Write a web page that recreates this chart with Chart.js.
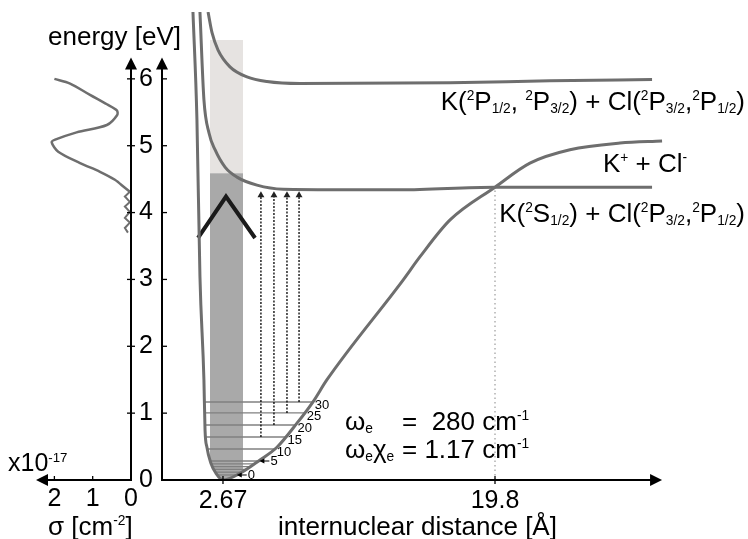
<!DOCTYPE html>
<html>
<head>
<meta charset="utf-8">
<script src="https://cdn.jsdelivr.net/npm/chart.js@4.4.0/dist/chart.umd.min.js"></script>
<style>
  html, body { margin: 0; padding: 0; background: #fff; }
  #wrap { position: relative; width: 748px; height: 539px; }
  #wrap canvas { position: absolute; left: 0; top: 0; }
</style>
</head>
<body>
<div id="wrap">
  <canvas id="sigma" width="748" height="539"></canvas>
  <canvas id="pec" width="748" height="539"></canvas>
</div>
<script>
// axes
const energyTicks = [0, 1, 2, 3, 4, 5, 6];
const distTicks = [2.67, 19.8];
const distTickLabels = ['2.67', '19.8'];
const sigmaTicks = [0, 1, 2];

// K+ + Cl- ionic curve (R in Å, E in eV)
const ionicR = [0.78, 1.03, 1.22, 1.47, 1.54, 1.66, 1.91, 2.23, 2.67, 3.74, 5.00, 6.07, 7.33, 8.34, 9.22, 14.01, 15.08, 16.97, 19.80, 22.00, 24.52, 27.67, 30.32];
const ionicE = [7.00, 5.39, 3.04, 1.50, 0.75, 0.49, 0.25, 0.10, 0.00, 0.10, 0.30, 0.49, 0.85, 1.17, 1.50, 2.99, 3.34, 3.89, 4.38, 4.74, 4.94, 5.04, 5.07];

// K(2S1/2) + Cl(2P3/2,2P1/2)
const covLowR = [1.22, 1.47, 1.79, 2.17, 2.80, 3.55, 4.81, 6.45, 13.82, 19.80, 29.69];
const covLowE = [7.00, 5.69, 5.19, 4.94, 4.68, 4.53, 4.41, 4.35, 4.34, 4.38, 4.38];

// K(2P1/2,2P3/2) + Cl(2P3/2,2P1/2)
const covUpR = [1.73, 1.98, 2.36, 3.11, 4.18, 5.44, 7.52, 16.97, 23.26, 29.69];
const covUpE = [7.00, 6.69, 6.43, 6.18, 6.03, 5.96, 5.93, 5.94, 5.97, 5.99];

// vibrational levels of the ionic well
const vibLevels = [0, 1, 2, 3, 4, 5, 10, 15, 20, 25, 30];
const vibE = [0.075, 0.117, 0.159, 0.200, 0.242, 0.284, 0.464, 0.643, 0.823, 1.003, 1.167];
const vibTagged = [0, 5, 10, 15, 20, 25, 30];

// excitation arrows
const pumpR = [5.06, 5.88, 6.70, 7.46];
const pumpFrom = [15, 20, 25, 30];
const pumpToE = 4.26;

// wave packet marker
const packetR = [1.10, 2.86, 4.69];
const packetE = [3.62, 4.24, 3.62];

// Franck-Condon window: dark part below fcMidE, light part up to fcTopE
const fcR = [1.85, 3.93];
const fcMidE = 4.59;
const fcTopE = 6.58;

// curve crossing
const crossR = 19.8;
const crossE = 4.38;

// photodissociation cross section (x10^-17 cm^2) vs energy
const specSigma = [2.00, 1.59, 1.07, 0.63, 0.37, 0.36, 0.63, 1.42, 1.98, 2.07, 1.90, 1.33, 0.81, 0.42, 0.16, 0.03];
const specE = [6.00, 5.93, 5.76, 5.62, 5.53, 5.46, 5.31, 5.20, 5.09, 5.05, 4.91, 4.74, 4.61, 4.49, 4.37, 4.31];
const zigSigma = [0.03, 0.16, 0.03, 0.16, 0.03, 0.16, 0.03, 0.16, 0.08];
const zigE = [4.31, 4.24, 4.16, 4.09, 4.01, 3.92, 3.85, 3.77, 3.70];

const FONT = "'Liberation Sans', Arial, Helvetica, sans-serif";
Chart.defaults.font.family = FONT;
Chart.defaults.color = '#000';

const CURVE = '#6e6e6e';
const axisTopE = 6.32;
const axisEndR = 30.32;
const sigmaAxisEnd = 2.48;

const pts = (xs, ys) => xs.map((x, i) => ({ x: x, y: ys[i] }));

// R where the ionic curve reaches energy e, on the inner or outer wall
function wallR(e, outer) {
  const iMin = ionicE.indexOf(Math.min(...ionicE));
  if (!outer) {
    for (let i = 0; i < iMin; i++) {
      if (ionicE[i] >= e && ionicE[i + 1] <= e) {
        const t = (ionicE[i] - e) / (ionicE[i] - ionicE[i + 1]);
        return ionicR[i] + t * (ionicR[i + 1] - ionicR[i]);
      }
    }
  } else {
    for (let i = iMin; i < ionicE.length - 1; i++) {
      if (ionicE[i] <= e && ionicE[i + 1] >= e) {
        const t = (e - ionicE[i]) / (ionicE[i + 1] - ionicE[i]);
        return ionicR[i] + t * (ionicR[i + 1] - ionicR[i]);
      }
    }
  }
  return ionicR[iMin];
}

// horizontal gradient that is only coloured inside the Franck-Condon window
function bandFill(color) {
  return (context) => {
    const chart = context.chart;
    const area = chart.chartArea;
    if (!area) return 'rgba(0,0,0,0)';
    const x = chart.scales.x;
    const w = area.right - area.left;
    const a = (x.getPixelForValue(fcR[0]) - area.left) / w;
    const b = (x.getPixelForValue(fcR[1]) - area.left) / w;
    const g = chart.ctx.createLinearGradient(area.left, 0, area.right, 0);
    const none = 'rgba(255,255,255,0)';
    g.addColorStop(0, none);
    g.addColorStop(a, none);
    g.addColorStop(a, color);
    g.addColorStop(b, color);
    g.addColorStop(b, none);
    g.addColorStop(1, none);
    return g;
  };
}

function drawRich(ctx, parts, x, y, size, align) {
  const small = size * 0.53;
  const pieces = parts.map(p => ({ t: p[0], k: p[1] || '', f: p[1] ? small : size }));
  let total = 0;
  pieces.forEach(p => {
    ctx.font = p.f + 'px ' + FONT;
    p.w = ctx.measureText(p.t).width;
    total += p.w;
  });
  let cx = align === 'right' ? x - total : x;
  ctx.textAlign = 'left';
  ctx.textBaseline = 'alphabetic';
  pieces.forEach(p => {
    ctx.font = p.f + 'px ' + FONT;
    const dy = p.k === 'sup' ? -size * 0.38 : (p.k === 'sub' ? size * 0.1 : 0);
    ctx.fillText(p.t, cx, y + dy);
    cx += p.w;
  });
}

function arrowHead(ctx, x, y, dir, len, half) {
  ctx.beginPath();
  if (dir === 'up') {
    ctx.moveTo(x, y); ctx.lineTo(x - half, y + len); ctx.lineTo(x + half, y + len);
  } else if (dir === 'right') {
    ctx.moveTo(x, y); ctx.lineTo(x - len, y - half); ctx.lineTo(x - len, y + half);
  } else {
    ctx.moveTo(x, y); ctx.lineTo(x + len, y - half); ctx.lineTo(x + len, y + half);
  }
  ctx.closePath();
  ctx.fill();
}

function seg(ctx, x1, y1, x2, y2) {
  ctx.beginPath(); ctx.moveTo(x1, y1); ctx.lineTo(x2, y2); ctx.stroke();
}

// ---------- potential energy curves ----------
const datasets = [
  {
    data: pts(ionicR, ionicE), borderColor: CURVE, borderWidth: 3,
    cubicInterpolationMode: 'monotone',
    fill: { value: fcMidE }, backgroundColor: bandFill('#a9a9a9')
  },
  {
    data: pts(covLowR, covLowE), borderColor: CURVE, borderWidth: 3,
    cubicInterpolationMode: 'monotone', fill: false
  },
  {
    data: pts(covUpR, covUpE), borderColor: CURVE, borderWidth: 3,
    cubicInterpolationMode: 'monotone', fill: false
  },
  {
    data: pts(packetR, packetE), borderColor: '#1a1a1a', borderWidth: 4,
    tension: 0, fill: false
  },
  {
    data: [{ x: crossR, y: 0 }, { x: crossR, y: crossE }],
    borderColor: '#b0b0b0', borderWidth: 1.5, borderDash: [1.5, 3], fill: false
  }
];
pumpR.forEach((r, i) => {
  const e0 = vibE[vibLevels.indexOf(pumpFrom[i])];
  datasets.push({
    data: [{ x: r, y: e0 }, { x: r, y: pumpToE }],
    borderColor: '#000', borderWidth: 1.3, borderDash: [2, 1.5], fill: false,
    pointRadius: [0, 4], pointStyle: 'triangle', pointBackgroundColor: '#222',
    pointBorderWidth: 0
  });
});
vibE.forEach(e => {
  datasets.push({
    data: [{ x: wallR(e, false), y: e }, { x: wallR(e, true), y: e }],
    borderColor: '#808080', borderWidth: 1.3, fill: false
  });
});
// light upper part of the Franck-Condon window
datasets.push({
  data: [{ x: fcR[0], y: fcMidE }, { x: fcR[1], y: fcMidE }],
  borderColor: 'rgba(0,0,0,0)', borderWidth: 1, fill: { value: fcTopE },
  backgroundColor: '#e6e3e1'
});

const pecDeco = {
  id: 'pecDeco',
  afterDraw(chart) {
    const { ctx } = chart;
    const x = chart.scales.x, y = chart.scales.y;
    const x0 = chart.chartArea.left;
    const y0 = y.getPixelForValue(0);
    const yTop = y.getPixelForValue(axisTopE);
    const xEnd = x.getPixelForValue(axisEndR);
    ctx.save();
    ctx.strokeStyle = '#000';
    ctx.fillStyle = '#000';
    ctx.lineWidth = 2;
    seg(ctx, x0, y0, x0, yTop + 8);
    seg(ctx, x0 - 1, y0, xEnd - 8, y0);
    arrowHead(ctx, x0, yTop, 'up', 12, 6);
    arrowHead(ctx, xEnd, y0, 'right', 12, 6);
    ctx.lineWidth = 1.3;
    energyTicks.forEach(v => {
      if (v === 0) return;
      const py = y.getPixelForValue(v);
      seg(ctx, x0, py, x0 + 5, py);
    });
    distTicks.forEach(v => {
      const px = x.getPixelForValue(v);
      seg(ctx, px, y0 - 4, px, y0 + 4);
    });

    // vibrational quantum numbers
    ctx.font = '13px ' + FONT;
    ctx.textBaseline = 'middle';
    ctx.textAlign = 'left';
    vibTagged.forEach(v => {
      const e = vibE[vibLevels.indexOf(v)];
      const px = x.getPixelForValue(wallR(e, true));
      const py = y.getPixelForValue(e);
      if (v <= 5) {
        ctx.lineWidth = 1;
        seg(ctx, px + 4, py, px + 11, py);
        arrowHead(ctx, px + 1, py, 'left', 5, 2.5);
        ctx.fillText(String(v), px + 12, py + 0.5);
      } else {
        ctx.fillText(String(v), px + 2, py + 3);
      }
    });

    // state labels
    drawRich(ctx, [['K('], ['2', 'sup'], ['P'], ['1/2', 'sub'], [', '], ['2', 'sup'], ['P'], ['3/2', 'sub'],
      [') + Cl('], ['2', 'sup'], ['P'], ['3/2', 'sub'], [','], ['2', 'sup'], ['P'], ['1/2', 'sub'], [')']],
      745, 110, 26, 'right');
    drawRich(ctx, [['K'], ['+', 'sup'], [' + Cl'], ['-', 'sup']], 603, 172, 26, 'left');
    drawRich(ctx, [['K('], ['2', 'sup'], ['S'], ['1/2', 'sub'], [') + Cl('], ['2', 'sup'], ['P'], ['3/2', 'sub'],
      [','], ['2', 'sup'], ['P'], ['1/2', 'sub'], [')']], 745, 222, 26, 'right');

    // spectroscopic constants
    drawRich(ctx, [['\u03c9'], ['e', 'sub']], 345, 430, 26, 'left');
    drawRich(ctx, [['=  280 cm'], ['-1', 'sup']], 402, 430, 26, 'left');
    drawRich(ctx, [['\u03c9'], ['e', 'sub'], ['\u03c7'], ['e', 'sub']], 345, 458, 26, 'left');
    drawRich(ctx, [['= 1.17 cm'], ['-1', 'sup']], 402, 458, 26, 'left');

    // axis titles
    ctx.font = '26px ' + FONT;
    ctx.textBaseline = 'alphabetic';
    ctx.fillText('energy [eV]', 48, 45);
    ctx.fillText('internuclear distance [\u00c5]', 278, 535);
    ctx.restore();
  }
};

new Chart(document.getElementById('pec'), {
  type: 'line',
  data: { datasets: datasets },
  options: {
    responsive: false,
    animation: false,
    events: [],
    layout: { padding: { left: 0, top: 12, right: 78, bottom: 0 } },
    elements: { point: { radius: 0 }, line: { borderCapStyle: 'butt' } },
    plugins: {
      legend: { display: false },
      tooltip: { enabled: false },
      filler: { drawTime: 'beforeDatasetsDraw' }
    },
    scales: {
      x: {
        type: 'linear', min: -1.17, max: 30.82,
        grid: { display: false, drawTicks: false },
        border: { display: false },
        ticks: {
          font: { size: 25 }, padding: 6, maxRotation: 0, autoSkip: false,
          callback: (v, i) => distTickLabels[i]
        },
        afterBuildTicks: s => { s.ticks = distTicks.map(v => ({ value: v })); },
        afterFit: s => { s.height = 59; s.paddingLeft = 0; s.paddingRight = 0; }
      },
      y: {
        type: 'linear', min: 0, max: 7,
        grid: { display: false, drawTicks: false },
        border: { display: false },
        ticks: { font: { size: 25 }, padding: 9, callback: v => String(v) },
        afterBuildTicks: s => { s.ticks = energyTicks.map(v => ({ value: v })); },
        afterFit: s => { s.width = 162; s.paddingTop = 0; s.paddingBottom = 0; }
      }
    }
  },
  plugins: [pecDeco]
});

// ---------- cross-section panel ----------
const sigmaDeco = {
  id: 'sigmaDeco',
  afterDraw(chart) {
    const { ctx } = chart;
    const x = chart.scales.x, y = chart.scales.y;
    const x0 = x.getPixelForValue(0);
    const y0 = y.getPixelForValue(0);
    const yTop = y.getPixelForValue(axisTopE);
    const xEnd = x.getPixelForValue(sigmaAxisEnd);
    ctx.save();
    ctx.strokeStyle = '#000';
    ctx.fillStyle = '#000';
    ctx.lineWidth = 2;
    seg(ctx, x0, y0 + 1, x0, yTop + 8);
    seg(ctx, x0 + 1, y0, xEnd + 8, y0);
    arrowHead(ctx, x0, yTop, 'up', 12, 6);
    arrowHead(ctx, xEnd, y0, 'left', 12, 6);
    ctx.lineWidth = 1.3;
    energyTicks.forEach(v => {
      if (v === 0) return;
      const py = y.getPixelForValue(v);
      seg(ctx, x0 - 4, py, x0 + 4, py);
    });
    sigmaTicks.forEach(v => {
      if (v === 0) return;
      const px = x.getPixelForValue(v);
      seg(ctx, px, y0, px, y0 - 4);
    });
    drawRich(ctx, [['x10'], ['-17', 'sup']], 8, 471, 25, 'left');
    drawRich(ctx, [['\u03c3 [cm'], ['-2', 'sup'], [']']], 48, 535, 26, 'left');
    ctx.restore();
  }
};

new Chart(document.getElementById('sigma'), {
  type: 'line',
  data: {
    datasets: [
      { data: pts(specSigma, specE), borderColor: CURVE, borderWidth: 2.5, tension: 0.3, fill: false },
      { data: pts(zigSigma, zigE), borderColor: CURVE, borderWidth: 2, tension: 0, fill: false }
    ]
  },
  options: {
    responsive: false,
    animation: false,
    events: [],
    layout: { padding: { left: 36, top: 12, right: 617, bottom: 0 } },
    elements: { point: { radius: 0 } },
    plugins: { legend: { display: false }, tooltip: { enabled: false } },
    scales: {
      x: {
        type: 'linear', reverse: true, min: 0, max: sigmaAxisEnd,
        grid: { display: false, drawTicks: false },
        border: { display: false },
        ticks: { font: { size: 25 }, padding: 4, maxRotation: 0, autoSkip: false, callback: v => String(v) },
        afterBuildTicks: s => { s.ticks = sigmaTicks.map(v => ({ value: v })); },
        afterFit: s => { s.height = 59; s.paddingLeft = 0; s.paddingRight = 0; }
      },
      y: { type: 'linear', min: 0, max: 7, display: false }
    }
  },
  plugins: [sigmaDeco]
});
</script>
</body>
</html>
